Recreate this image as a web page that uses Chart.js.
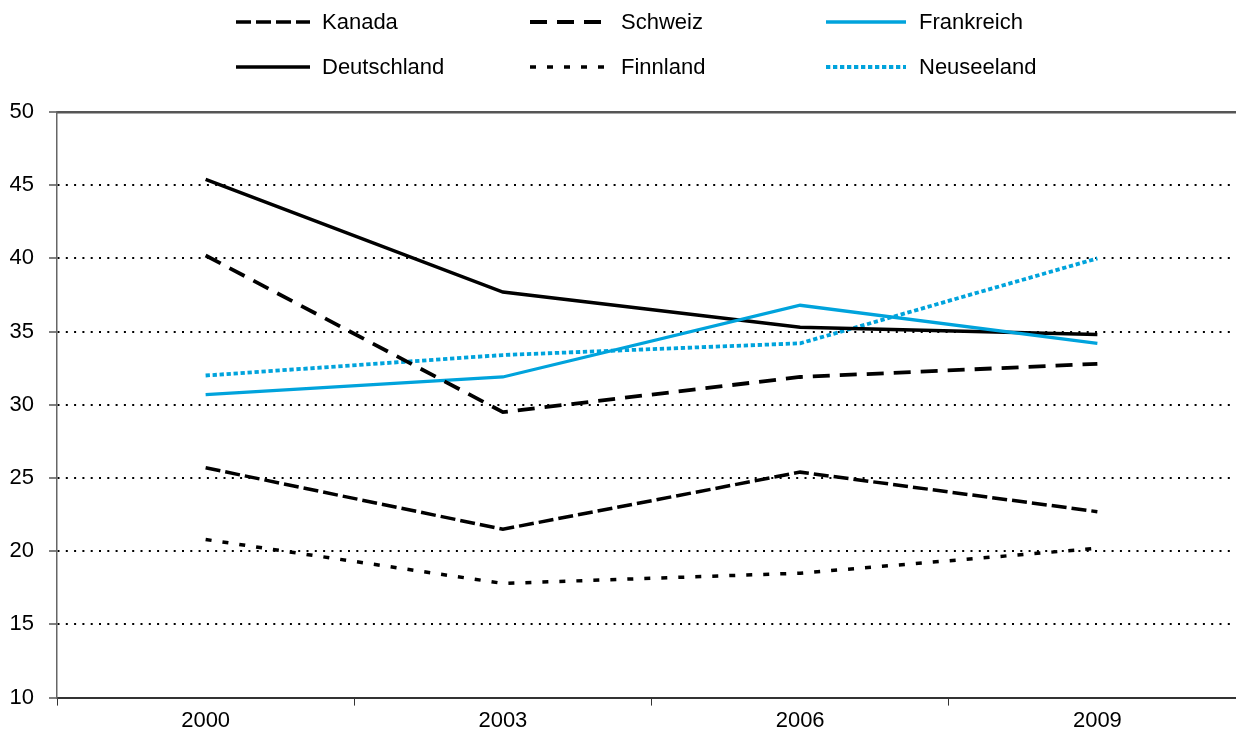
<!DOCTYPE html>
<html>
<head>
<meta charset="utf-8">
<script src="https://cdn.jsdelivr.net/npm/chart.js@4/dist/chart.umd.min.js"></script>
<style>
  html, body { margin: 0; padding: 0; background: #fff; overflow: hidden; }
  #wrap { width: 1250px; height: 737px; }
</style>
</head>
<body>
<div id="wrap"><canvas id="c" width="1250" height="737"></canvas></div>
<script>
// Years on the category axis
const years = ['2000', '2003', '2006', '2009'];

// Share per country (%)
const kanada      = [25.7, 21.5, 25.4, 22.7];
const schweiz     = [40.2, 29.5, 31.9, 32.8];
const frankreich  = [30.7, 31.9, 36.8, 34.2];
const deutschland = [45.4, 37.7, 35.3, 34.8];
const finnland    = [20.8, 17.8, 18.5, 20.2];
const neuseeland  = [32.0, 33.4, 34.2, 40.0];

// Value axis range
const yMin = 10, yMax = 50, yStep = 5;

const BLUE = '#00a3dc';
const BLACK = '#000000';

Chart.defaults.font.family = "'Liberation Sans', Arial, sans-serif";
Chart.defaults.font.size = 22;
Chart.defaults.color = '#000';

function series(label, data, color, width, dash) {
  return {
    label, data,
    borderColor: color,
    backgroundColor: color,
    borderWidth: width,
    borderDash: dash,
    borderCapStyle: 'butt',
    pointRadius: 0,
    pointHoverRadius: 0,
    tension: 0,
    fill: false
  };
}

// Order: first legend row left to right, then second row
const datasets = [
  series('Kanada', kanada, BLACK, 3.5, [15, 5]),
  series('Schweiz', schweiz, BLACK, 3.8, [17, 10]),
  series('Frankreich', frankreich, BLUE, 3.3, []),
  series('Deutschland', deutschland, BLACK, 3.5, []),
  series('Finnland', finnland, BLACK, 3.5, [6, 11]),
  series('Neuseeland', neuseeland, BLUE, 3.8, [4.3, 2.7])
];

// Legend in a 3-column grid above the plot
const gridLegend = {
  id: 'gridLegend',
  afterDraw(chart) {
    const ctx = chart.ctx;
    const colLine = [236, 530, 826];
    const colLen = [74, 75, 80];
    const colText = [322, 621, 919];
    const rowY = [22, 67];
    chart.data.datasets.forEach((ds, i) => {
      const c = i % 3, r = Math.floor(i / 3);
      const y = rowY[r];
      ctx.save();
      ctx.strokeStyle = ds.borderColor;
      ctx.lineWidth = ds.borderWidth;
      ctx.lineCap = 'butt';
      ctx.setLineDash(ds.borderDash || []);
      ctx.beginPath();
      ctx.moveTo(colLine[c], y);
      ctx.lineTo(colLine[c] + colLen[c], y);
      ctx.stroke();
      ctx.setLineDash([]);
      ctx.fillStyle = '#000';
      ctx.font = "22px 'Liberation Sans', Arial, sans-serif";
      ctx.textBaseline = 'middle';
      ctx.textAlign = 'left';
      ctx.fillText(ds.label, colText[c], y + 1);
      ctx.restore();
    });
  }
};

new Chart(document.getElementById('c'), {
  type: 'line',
  data: { labels: years, datasets },
  plugins: [gridLegend],
  options: {
    responsive: false,
    animation: false,
    devicePixelRatio: 1,
    layout: { padding: { top: 112, left: 0, right: 4, bottom: 1 } },
    plugins: { legend: { display: false }, tooltip: { enabled: false } },
    scales: {
      x: {
        type: 'category',
        offset: true,
        grid: {
          offset: true,
          drawOnChartArea: false,
          drawTicks: true,
          tickLength: 8,
          tickColor: '#333',
          tickWidth: 1
        },
        border: { display: true, color: '#333', width: 2 },
        ticks: { padding: 2, color: '#000', font: { size: 22 } }
      },
      xTop: {
        type: 'category',
        position: 'top',
        offset: true,
        grid: { display: false, drawTicks: false, drawOnChartArea: false },
        border: { display: true, color: '#555', width: 2.5 },
        ticks: { display: false }
      },
      y: {
        min: yMin,
        max: yMax,
        afterFit(scale) { scale.width = 57; },
        ticks: { stepSize: yStep, padding: 15, color: '#000', font: { size: 22 } },
        grid: {
          drawTicks: true,
          tickLength: 8,
          tickColor: '#555',
          tickWidth: 1.5,
          lineWidth: 2,
          color: (ctx) => (ctx.tick && (ctx.tick.value === yMin || ctx.tick.value === yMax)) ? 'rgba(0,0,0,0)' : '#000'
        },
        border: { display: true, color: '#666', width: 1.5, dash: [2, 6.3] }
      }
    }
  }
});
</script>
</body>
</html>
